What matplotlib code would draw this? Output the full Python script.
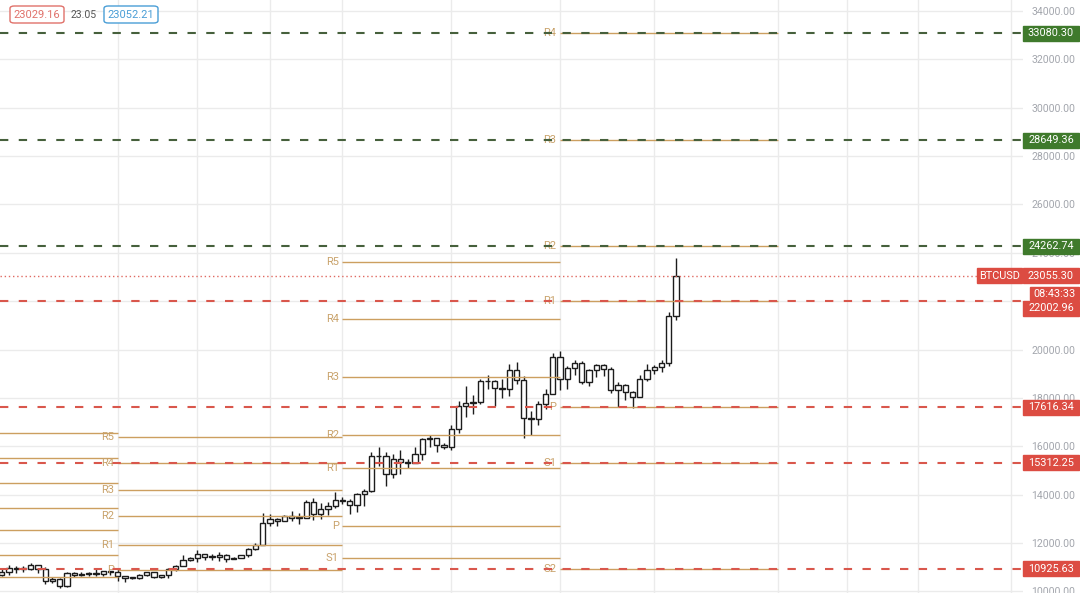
import matplotlib
matplotlib.use('Agg')
import matplotlib.pyplot as plt
from matplotlib.patches import Rectangle, FancyBboxPatch
import numpy as np
import pandas as pd

plt.rcParams['font.family'] = ['Roboto', 'DejaVu Sans']

# дневные свечи BTCUSD, 15.09.2020 - 17.12.2020
dates = pd.date_range('2020-09-15', '2020-12-17', freq='D')
opens = [10680, 10790, 10955, 10940, 10935, 11080, 10920, 10420, 10530, 10240,
         10740, 10690, 10730, 10775, 10700, 10840,
         10780, 10620, 10570, 10550, 10670, 10790, 10600, 10670, 10920, 11060,
         11300, 11380, 11540, 11430, 11420, 11500, 11330, 11370, 11510, 11750,
         11920, 12820, 12980, 12930, 13130, 13030, 13030, 13700, 13180, 13400,
         13520,
         13760, 13740, 13560, 14030, 14160, 15590, 15580, 14840, 15480, 15330,
         15310, 15700, 16300, 16330, 16070, 15960, 16720, 17660, 17800, 17820,
         18680, 18720, 18420, 18370, 19160, 18740, 17160, 17140, 17730, 18180,
         19700, 18800, 19220, 19450, 18650, 19150, 19380, 19180, 18320, 18550,
         18250, 18030, 18800, 19170, 19270, 19440, 21370]
highs = [10950, 11100, 11040, 11040, 11180, 11080, 10990, 10580, 10540, 10780,
         10780, 10800, 10800, 10950, 10860, 10850,
         10920, 10640, 10600, 10700, 10800, 10800, 10690, 10960, 11110, 11490,
         11440, 11730, 11560, 11560, 11620, 11540, 11410, 11510, 11800, 12020,
         13220, 13180, 13030, 13170, 13340, 13240, 13780, 13860, 13640, 13680,
         14100,
         13900, 13820, 14070, 14250, 15750, 15970, 15770, 15670, 15850, 15460,
         15960, 16340, 16480, 16340, 16140, 16880, 17860, 18490, 18140, 18800,
         18960, 18750, 18770, 19420, 19480, 18920, 17460, 17880, 18350, 19850,
         19920, 19320, 19580, 19520, 19180, 19420, 19420, 19290, 18640, 18570,
         18290, 18950, 19410, 19350, 19570, 21560, 23770]
lows = [10630, 10680, 10750, 10810, 10890, 10770, 10300, 10360, 10140, 10200,
        10590, 10650, 10620, 10650, 10640, 10670,
        10440, 10380, 10520, 10520, 10630, 10550, 10560, 10550, 10830, 11050,
        11260, 11210, 11300, 11280, 11250, 11220, 11320, 11360, 11410, 11700,
        11900, 12710, 12720, 12900, 12910, 12800, 13020, 12950, 12990, 13150,
        13430,
        13620, 13200, 13290, 13530, 14090, 15200, 14360, 14700, 14850, 15090,
        15290, 15440, 15950, 15770, 15870, 15860, 16560, 17230, 17340, 17760,
        18360, 17650, 18000, 18100, 18580, 16330, 16480, 16880, 17550, 18180,
        18320, 18350, 18930, 18570, 18500, 18860, 18920, 18200, 17620, 17920,
        17580, 18020, 18720, 19000, 19080, 19300, 21240]
closes = [10790, 10955, 10940, 10935, 11080, 10920, 10420, 10530, 10240, 10740,
          10690, 10730, 10775, 10700, 10840, 10780,
          10620, 10570, 10550, 10670, 10790, 10600, 10670, 10920, 11060, 11300,
          11380, 11540, 11430, 11420, 11500, 11330, 11370, 11510, 11750, 11920,
          12820, 12980, 12930, 13130, 13030, 13030, 13700, 13180, 13400, 13520,
          13760,
          13740, 13560, 14030, 14160, 15590, 15580, 14840, 15480, 15330, 15310,
          15700, 16300, 16330, 16070, 15960, 16720, 17660, 17800, 17820, 18680,
          18720, 18420, 18370, 19160, 18740, 17160, 17140, 17730, 18180, 19700,
          18800, 19220, 19450, 18650, 19150, 19380, 19180, 18320, 18550, 18250,
          18030, 18800, 19170, 19270, 19440, 21370, 23055.30]

# месячные пивоты (Traditional): начало/конец периода в барах
level_names = ['R5', 'R4', 'R3', 'R2', 'R1', 'P', 'S1', 'S2']
sep_levels = [16537, 15503, 14470, 13460, 12538, 11504, 10607, None]
oct_levels = [16380, 15300, 14190, 13120, 11920, 10880, None, None]
nov_levels = [23630, 21250, 18860, 16450, 15100, 12720, 11380, None]
dec_levels = [None, 33080.30, 28649.36, 24262.74, 22002.96, 17616.34, 15312.25, 10925.63]
period_start = [-15, 16, 47, 77]
period_end = [16, 47, 77, 107]
period_labels = [False, True, True, True]

last_price = 23055.30
countdown = '08:43:33'
header = ['23029.16', '23.05', '23052.21']

W, H = 1080, 593
fig = plt.figure(figsize=(W / 100, H / 100), dpi=100)
ax = fig.add_axes([0, 0, 1023 / W, 1])
ax.set_xlim(-0.24, 140.86)
ax.set_ylim(9932, 34457)

for s in ax.spines.values():
    s.set_visible(False)
ax.set_xticks([])
ax.set_yticks(np.arange(10000, 34001, 2000))
ax.yaxis.tick_right()
ax.yaxis.set_major_formatter('{x:.2f}')
ax.tick_params(axis='y', length=0, pad=6, labelsize=7.6, labelcolor='#a3a6ad')
ax.yaxis.grid(True, color='#ebebeb', lw=1)
ax.set_axisbelow(True)
for gx in [16, 27, 37, 47, 62, 77, 90, 107, 116.6, 126.4, 139.2]:
    ax.axvline(gx, color='#ebebeb', lw=1, zorder=0)

# свечи
x = np.arange(len(dates))
o = np.array(opens, dtype=float)
c = np.array(closes, dtype=float)
ax.vlines(x, lows, highs, color='#1c1c1c', lw=1, zorder=3)
body = np.maximum(np.abs(c - o), 25)
ax.bar(x, body, bottom=np.minimum(o, c), width=0.7, color='white',
       edgecolor='#1c1c1c', lw=1, zorder=4)

# пивоты
tan = '#cc9f60'
for levels, st, en, lab in zip([sep_levels, oct_levels, nov_levels, dec_levels],
                               period_start, period_end, period_labels):
    for name, val in zip(level_names, levels):
        if val is None:
            continue
        ax.hlines(val, st, en, color=tan, lw=1, zorder=5)
        if lab:
            ax.text(st - 0.5, val, name, ha='right', va='center', color='#c9a36c',
                    fontsize=8, zorder=6)

green_dash = '#46603c'
red_dash = '#d9574c'
for name, val in zip(level_names, dec_levels):
    if val is None:
        continue
    col = green_dash if name in ('R4', 'R3', 'R2') else red_dash
    ax.axhline(val, color=col, lw=1.5, ls=(0, (4, 5)), zorder=7)

ax.axhline(last_price, xmax=978 / 1023, color='#e06a62', lw=1, ls=(0, (1, 2)), zorder=5)


def tag(val, text, color, x0=1023, w=56, h=15, dy=0, fs=7.8):
    y = ax.transData.transform((0, val))[1] - dy
    fig.add_artist(Rectangle((x0 / W, (y - h / 2) / H), w / W, h / H,
                             transform=fig.transFigure, color=color, zorder=10))
    fig.text((x0 + w / 2) / W, y / H, text, color='white', ha='center',
             va='center', fontsize=fs, zorder=11)


green_box = '#3f7a2c'
red_box = '#dc4c42'
for name, val in zip(level_names, dec_levels):
    if val is None:
        continue
    if name in ('R4', 'R3', 'R2'):
        tag(val, f'{val:.2f}', green_box)
    elif name == 'R1':
        tag(val, f'{val:.2f}', red_box, dy=7)
    else:
        tag(val, f'{val:.2f}', red_box)

tag(last_price, f'{last_price:.2f}', red_box)
tag(last_price, 'BTCUSD', red_box, x0=977, w=45)
tag(last_price, countdown, red_box, x0=1030, w=49, h=13, dy=18)

# верхняя панель
def head_box(xc, text, col):
    fig.add_artist(FancyBboxPatch(((xc - 27) / W, (H - 23) / H), 54 / W, 17 / H,
                                  boxstyle='round,pad=0,rounding_size=0.004',
                                  transform=fig.transFigure, facecolor='white',
                                  edgecolor=col, lw=1, zorder=10))
    fig.text(xc / W, (H - 14.5) / H, text, color=col, ha='center', va='center',
             fontsize=8, zorder=11)


head_box(37, header[0], '#e0716a')
fig.text(84 / W, (H - 14.5) / H, header[1], color='#555555', ha='center',
         va='center', fontsize=7.5, zorder=11)
head_box(131, header[2], '#4a9ed6')

fig.savefig('out.png', dpi=100, facecolor='white')
